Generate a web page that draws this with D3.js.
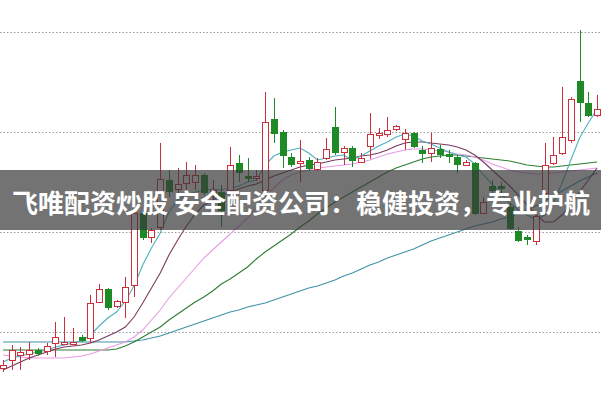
<!DOCTYPE html>
<html><head><meta charset="utf-8">
<script src="https://cdn.jsdelivr.net/npm/d3@7"></script>
<style>html,body{margin:0;padding:0;background:#fff;overflow:hidden}</style>
</head><body>
<svg id="c" width="601" height="401"></svg>
<script>
const open=[4.64,4.72,4.77,4.78,4.82,4.81,4.89,4.88,4.88,4.95,4.94,5.30,5.43,5.26,5.30,5.47,6.19,5.95,6.05,6.52,6.43,6.49,6.50,6.57,6.36,6.40,6.42,6.69,6.56,6.54,6.42,7.13,7.00,6.75,6.69,6.72,6.63,6.74,7.05,6.80,6.84,6.70,6.86,6.97,6.98,7.03,6.93,6.99,6.82,6.79,6.83,6.78,6.75,6.67,6.69,6.19,6.46,6.46,6.25,6.01,5.95,5.91,6.39,6.69,6.79,6.92,7.51,7.29,7.17];
const high=[4.72,4.87,4.85,4.90,4.84,4.89,5.10,5.15,5.04,4.97,5.37,5.48,5.44,5.32,5.55,6.21,6.22,6.04,6.89,6.62,6.64,6.70,6.67,6.59,6.52,6.47,6.85,6.77,6.74,6.62,7.40,7.34,7.02,6.79,6.92,6.75,6.74,6.94,7.25,6.86,6.86,6.79,7.19,7.04,7.15,7.07,7.03,7.00,6.86,6.99,6.87,6.82,6.77,6.72,6.70,6.35,6.52,6.50,6.29,6.05,5.97,6.20,6.89,6.95,7.45,7.35,8.02,7.40,7.37];
const low=[4.60,4.62,4.62,4.72,4.76,4.77,4.75,4.87,4.87,4.90,4.89,5.29,5.22,5.24,5.14,5.35,5.92,5.89,6.02,6.35,6.35,6.42,6.42,6.37,6.32,6.05,6.37,6.50,6.50,6.51,6.40,6.89,6.64,6.65,6.50,6.61,6.61,6.72,6.77,6.67,6.65,6.69,6.73,6.93,6.95,7.01,6.82,6.84,6.69,6.70,6.74,6.69,6.59,6.66,6.17,6.18,6.39,6.39,6.02,5.90,5.87,5.87,6.35,6.67,6.77,6.89,7.10,7.15,7.15];
const close=[4.67,4.82,4.80,4.82,4.79,4.86,4.95,4.90,4.90,4.92,5.29,5.43,5.25,5.31,5.45,6.19,5.95,6.02,6.53,6.41,6.48,6.57,6.57,6.40,6.42,6.22,6.67,6.60,6.54,6.56,7.10,6.99,6.77,6.68,6.71,6.64,6.70,6.83,6.80,6.84,6.72,6.74,6.98,6.99,7.02,7.06,6.99,6.86,6.79,6.84,6.78,6.76,6.68,6.70,6.19,6.30,6.42,6.44,6.04,5.92,5.93,6.16,6.67,6.77,6.95,7.33,7.30,7.17,7.23];

const ma5=[4.70,4.74,4.76,4.78,4.80,4.82,4.85,4.87,4.89,4.91,4.97,5.06,5.14,5.20,5.31,5.46,5.67,5.84,5.99,6.20,6.32,6.37,6.40,6.42,6.43,6.42,6.44,6.46,6.50,6.52,6.67,6.76,6.80,6.82,6.84,6.79,6.72,6.74,6.76,6.77,6.72,6.76,6.81,6.86,6.90,6.95,6.98,6.96,6.91,6.88,6.84,6.80,6.77,6.75,6.68,6.57,6.48,6.38,6.29,6.22,6.17,6.12,6.17,6.29,6.49,6.72,6.94,7.09,7.23];
const ma10=[4.62,4.66,4.70,4.74,4.77,4.80,4.83,4.85,4.86,4.87,4.89,4.92,4.96,5.00,5.05,5.15,5.29,5.44,5.59,5.77,5.92,6.06,6.18,6.27,6.32,6.36,6.40,6.43,6.46,6.48,6.52,6.56,6.59,6.62,6.65,6.67,6.68,6.70,6.72,6.73,6.74,6.76,6.77,6.79,6.82,6.86,6.89,6.90,6.90,6.89,6.88,6.87,6.85,6.82,6.77,6.70,6.62,6.54,6.46,6.37,6.27,6.17,6.10,6.10,6.17,6.27,6.40,6.52,6.64];
const ma20=[4.77,4.76,4.75,4.74,4.74,4.74,4.74,4.74,4.75,4.76,4.78,4.81,4.84,4.87,4.90,4.95,5.02,5.12,5.22,5.34,5.44,5.54,5.64,5.74,5.82,5.90,5.98,6.06,6.14,6.24,6.34,6.44,6.52,6.57,6.60,6.62,6.64,6.65,6.66,6.67,6.68,6.70,6.72,6.75,6.78,6.80,6.82,6.83,6.83,6.82,6.81,6.80,6.78,6.77,6.75,6.72,6.68,6.65,6.62,6.60,6.59,6.58,6.58,6.59,6.60,6.61,6.62,6.63,6.64];
const ma60=[4.82,4.82,4.82,4.82,4.82,4.82,4.82,4.82,4.82,4.82,4.82,4.82,4.82,4.83,4.86,4.90,4.95,5.00,5.05,5.12,5.18,5.24,5.30,5.35,5.41,5.48,5.53,5.59,5.65,5.73,5.80,5.86,5.92,5.98,6.05,6.11,6.18,6.24,6.30,6.35,6.40,6.45,6.50,6.55,6.60,6.64,6.67,6.70,6.73,6.75,6.76,6.77,6.77,6.76,6.75,6.74,6.73,6.72,6.71,6.69,6.67,6.66,6.65,6.65,6.66,6.67,6.68,6.69,6.70];
const ma120=[4.90,4.90,4.90,4.90,4.90,4.90,4.90,4.90,4.90,4.90,4.90,4.90,4.90,4.90,4.90,4.91,4.92,4.94,4.96,4.99,5.02,5.05,5.08,5.11,5.14,5.17,5.20,5.22,5.25,5.27,5.29,5.32,5.35,5.38,5.41,5.44,5.46,5.49,5.52,5.56,5.59,5.63,5.67,5.70,5.74,5.77,5.80,5.83,5.87,5.91,5.94,5.97,6.00,6.03,6.06,6.08,6.10,6.13,6.15,6.19,6.22,6.26,6.31,6.36,6.41,6.46,6.51,6.55,6.59];
const gridTicks=[5,6,7,8];
const title="飞唯配资炒股 安全配资公司：稳健投资，专业护航";

const W=601,H=401;
const svg=d3.select("#c");
const n=open.length;
const x=d3.scaleBand().domain(d3.range(n)).range([-1.4,601.4]).paddingInner(0.3).paddingOuter(0.15);
const y=d3.scaleLinear().domain([5,8]).range([332,32]);
const cx=i=>Math.round(x(i)+x.bandwidth()/2);

// grid
svg.append("g").selectAll("line").data(gridTicks).join("line")
  .attr("x1",0).attr("x2",W)
  .attr("y1",d=>Math.round(y(d))+0.5).attr("y2",d=>Math.round(y(d))+0.5)
  .attr("stroke","#9a9a9a").attr("stroke-width",1).attr("stroke-dasharray","1.5,2");

// moving averages
const mas=[
  {v:ma120,c:"#3f93a8"},
  {v:ma60,c:"#2e7d32"},
  {v:ma20,c:"#e79be6"},
  {v:ma10,c:"#7a3a60"},
  {v:ma5,c:"#4fb0bf"}
];
const line=d3.line().x((d,i)=>x(i)+x.bandwidth()/2).y(d=>y(d));
svg.append("g").selectAll("path").data(mas).join("path")
  .attr("d",d=>line(d.v)).attr("fill","none").attr("stroke",d=>d.c).attr("stroke-width",1.1);

// candles
const up="#cc2f3a", dn="#1d8a26";
const g=svg.append("g");
d3.range(n).forEach(i=>{
  const o=open[i],c=close[i],h=high[i],l=low[i];
  const isUp=c>=o;
  const col=isUp?up:dn;
  const xc=cx(i)+0.5;
  const top=Math.round(y(Math.max(o,c))), bot=Math.round(y(Math.min(o,c)));
  const bh=Math.max(1,bot-top);
  g.append("line").attr("x1",xc).attr("x2",xc).attr("y1",y(h)).attr("y2",top).attr("stroke",col).attr("stroke-width",1);
  g.append("line").attr("x1",xc).attr("x2",xc).attr("y1",top+bh).attr("y2",y(l)).attr("stroke",col).attr("stroke-width",1);
  const bx=cx(i)-3;
  if(isUp){
    g.append("rect").attr("x",bx+0.5).attr("y",top+0.5).attr("width",6).attr("height",bh)
      .attr("fill","#fff").attr("stroke",col).attr("stroke-width",1);
  } else {
    g.append("rect").attr("x",bx).attr("y",top).attr("width",7).attr("height",bh+1).attr("fill",col);
  }
});

// banner
svg.append("rect").attr("x",0).attr("y",170).attr("width",W).attr("height",60).attr("fill","rgba(55,55,55,0.7)");
svg.append("text").attr("x",301).attr("y",201).attr("text-anchor","middle").attr("dominant-baseline","central")
  .attr("font-family","'Noto Sans CJK SC','Noto Sans',sans-serif").attr("font-weight","bold").attr("font-size",26)
  .attr("fill","#fff").text(title);
</script>
</body></html>
